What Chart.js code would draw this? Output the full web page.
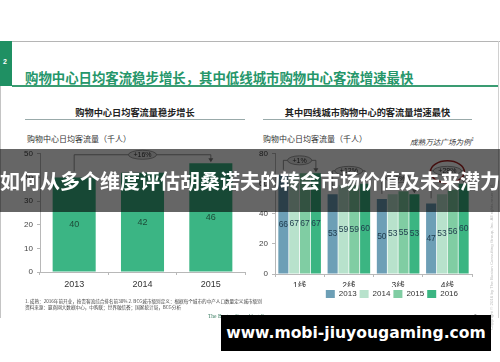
<!DOCTYPE html>
<html>
<head>
<meta charset="utf-8">
<script src="https://cdn.jsdelivr.net/npm/chart.js@4"></script>
<style>
  html, body { margin: 0; padding: 0; background: #fff; }
  #page { position: relative; width: 500px; height: 362px; overflow: hidden; background: #fff;
    font-family: "Noto Sans CJK SC", "Liberation Sans", sans-serif; }
  .abs { position: absolute; white-space: nowrap; }
  canvas { position: absolute; }
</style>
</head>
<body>
<div id="page">
  <!-- slide frame -->
  <div class="abs" style="left:0;top:41px;width:500px;height:1px;background:#b5b5b5"></div>
  <div class="abs" style="left:0;top:41px;width:1px;height:277px;background:#c4c4c4"></div>
  <div class="abs" style="left:498px;top:41px;width:1px;height:277px;background:#d0d0d0"></div>
  <div class="abs" style="left:0;top:41px;width:12px;height:45px;background:#1f9063"></div>
  <div class="abs" style="left:3px;top:58px;font:bold 7px 'Liberation Sans';color:#fff">2</div>
  <div class="abs" style="left:12px;top:85px;width:486px;height:2px;background:#3a9c72"></div>
  <div class="abs" style="left:25px;top:68px;font:bold 13.4px 'Noto Sans CJK SC';line-height:19px;color:#25966a">购物中心日均客流稳步增长，其中低线城市购物中心客流增速最快</div>

  <!-- panel titles -->
  <div class="abs" style="left:25px;width:220px;top:105px;text-align:center;font:bold 9.2px 'Noto Sans CJK SC';line-height:14px;color:#222">购物中心日均客流量稳步增长</div>
  <div class="abs" style="left:25px;top:119px;width:220px;height:1px;background:#9aa"></div>
  <div class="abs" style="left:263px;width:209px;top:105px;text-align:center;font:bold 9.2px 'Noto Sans CJK SC';line-height:14px;color:#222">其中四线城市购物中心的客流量增速最快</div>
  <div class="abs" style="left:263px;top:119px;width:209px;height:1px;background:#9aa"></div>

  <div class="abs" style="left:27px;top:133px;font:8px 'Noto Sans CJK SC';line-height:12px;color:#333">购物中心日均客流量（千人）</div>
  <div class="abs" style="left:263px;top:133px;font:8px 'Noto Sans CJK SC';line-height:12px;color:#333">购物中心日均客流量（千人）</div>
  <div class="abs" style="left:410px;top:133px;font:italic 7.6px 'Noto Sans CJK SC';line-height:12px;color:#333">成熟万达广场为例<sup style="font-size:5px">1</sup></div>

  <canvas id="leftChart" width="250" height="150" style="left:0;top:145px;width:250px;height:150px"></canvas>
  <canvas id="rightChart" width="250" height="163" style="left:250px;top:145px;width:250px;height:163px"></canvas>

  <!-- footnotes -->
  <div class="abs" style="left:25px;top:299px;font:4.6px 'Noto Sans CJK SC';line-height:5.5px;color:#444">1. 成熟：2016年前开业，按贵客流综合排名前30% 2. BCG城市级别定义：根据每个城市的中产人口数量定义城市级别<br>资料来源：赢商网大数据中心，中购联；世界融信荟；国家统计局，BCG分析</div>
  <div class="abs" style="left:208px;top:313px;font:5.5px 'Liberation Serif';line-height:7px;color:#3b7d62">The Boston Consulting Group</div>
  <div class="abs" style="left:474px;top:313px;font:5px 'Liberation Sans';line-height:7px;color:#555">6</div>
  <div class="abs" style="left:489px;top:330px;transform-origin:0 0;transform:rotate(-90deg);font:4.4px 'Liberation Sans';color:#bbb">Copyright © 2016 by The Boston Consulting Group, Inc. All rights reserved.</div>

  <!-- overlays -->
  <div class="abs" style="left:0;top:149px;width:500px;height:63px;background:rgba(0,0,0,0.6);color:#fff;text-align:center;font:bold 20px 'Noto Sans CJK SC';line-height:63px;letter-spacing:0">如何从多个维度评估胡桑诺夫的转会市场价值及未来潜力</div>
  <div class="abs" style="left:221px;top:315px;width:270px;height:36px;background:#000;color:#fff;text-align:center;font:bold 15.6px 'DejaVu Sans';line-height:36px">www.mobi-jiuyougaming.com</div>
</div>

<script>
// left panel: overall daily traffic
const years = ["2013", "2014", "2015"];
const dailyTraffic = [40, 42, 46];
const overallGrowth = "+16%";

// right panel: by city tier
const cityTiers = ["1线", "2线", "3线", "4线"];
const seriesYears = ["2013", "2014", "2015", "2016"];
const traffic2013 = [66, 53, 50, 47];
const traffic2014 = [67, 59, 53, 53];
const traffic2015 = [67, 59, 55, 56];
const traffic2016 = [67, 60, 53, 60];
const tierGrowth = ["+1%", "+12%", "+6%", "+28%"];
const highlightTier = 3;

const tierColors = ["#6d9fb6", "#b8e2cc", "#80cda3", "#3bb582"];

Chart.defaults.font.family = '"Liberation Sans", "Noto Sans CJK SC", sans-serif';
Chart.defaults.color = "#333";
Chart.defaults.animation = false;

// draws a growth bracket with the ellipse label
function drawBracket(ctx, x1, y1, x2, y2, topY, label, highlight) {
  ctx.save();
  ctx.strokeStyle = "#7a7a7a";
  ctx.lineWidth = 0.8;
  ctx.beginPath();
  ctx.moveTo(x1, y1);
  ctx.lineTo(x1, topY);
  ctx.lineTo(x2, topY);
  ctx.lineTo(x2, y2 - 3);
  ctx.stroke();
  ctx.fillStyle = "#7a7a7a";
  ctx.beginPath();
  ctx.moveTo(x2 - 2.5, y2 - 4);
  ctx.lineTo(x2 + 2.5, y2 - 4);
  ctx.lineTo(x2, y2);
  ctx.closePath();
  ctx.fill();

  const cx = (x1 + x2) / 2;
  ctx.font = "7px 'Liberation Sans'";
  const tw = ctx.measureText(label).width;
  ctx.beginPath();
  ctx.ellipse(cx, topY, tw / 2 + 5, 4.5, 0, 0, Math.PI * 2);
  ctx.fillStyle = "#e6e6e6";
  ctx.fill();
  ctx.strokeStyle = "#888";
  ctx.stroke();
  ctx.fillStyle = "#333";
  ctx.textAlign = "center";
  ctx.textBaseline = "middle";
  ctx.fillText(label, cx, topY + 0.5);
  if (highlight) {
    ctx.beginPath();
    ctx.ellipse(cx, topY + 1, 17, 11, 0, 0, Math.PI * 2);
    ctx.strokeStyle = "#a82424";
    ctx.lineWidth = 1.5;
    ctx.stroke();
  }
  ctx.restore();
}

const valueLabels = {
  id: "valueLabels",
  afterDatasetsDraw(chart, args, opts) {
    const ctx = chart.ctx;
    ctx.save();
    ctx.font = opts.font;
    ctx.fillStyle = opts.color;
    ctx.textAlign = "center";
    ctx.textBaseline = "middle";
    chart.data.datasets.forEach((ds, di) => {
      chart.getDatasetMeta(di).data.forEach((bar, i) => {
        ctx.fillText(ds.data[i], bar.x, (bar.y + bar.base) / 2);
      });
    });
    ctx.restore();
  }
};

const overallBracket = {
  id: "overallBracket",
  afterDatasetsDraw(chart) {
    const bars = chart.getDatasetMeta(0).data;
    const first = bars[0], last = bars[bars.length - 1];
    const topY = Math.min(...bars.map(b => b.y)) - 8.5;
    drawBracket(chart.ctx, first.x, first.y - 6, last.x, last.y - 1, topY, overallGrowth, false);
  }
};

const tierBrackets = {
  id: "tierBrackets",
  afterDatasetsDraw(chart) {
    const n = chart.data.datasets.length;
    cityTiers.forEach((t, i) => {
      const els = chart.data.datasets.map((ds, di) => chart.getDatasetMeta(di).data[i]);
      const first = els[0], last = els[n - 1];
      const topY = Math.min(...els.map(b => b.y)) - 13;
      drawBracket(chart.ctx, first.x, first.y - 5, last.x, last.y - 1, topY, tierGrowth[i], i === highlightTier);
    });
  },
  afterLayout(chart) {
    // nudge legend toward the centre like the slide
    chart.legend.right -= 11;
  }
};

const axisLine = "#b8b8b8";

new Chart(document.getElementById("leftChart"), {
  type: "bar",
  data: {
    labels: years,
    datasets: [{
      data: dailyTraffic,
      backgroundColor: "#3bb584",
      barPercentage: 1,
      categoryPercentage: 0.63
    }]
  },
  options: {
    responsive: false,
    layout: { padding: { top: 7, right: 5, left: 0, bottom: 0 } },
    plugins: {
      legend: { display: false },
      tooltip: { enabled: false },
      valueLabels: { font: "9px 'Liberation Sans'", color: "#1d4b38" }
    },
    scales: {
      x: {
        grid: { display: true, drawOnChartArea: false, offset: true, tickLength: 3, color: axisLine },
        border: { color: axisLine },
        ticks: { font: { size: 9 }, color: "#333", padding: 4 },
        afterFit: s => { s.height = 23; }
      },
      y: {
        min: 0, max: 50,
        grid: { display: true, drawOnChartArea: false, tickLength: 3, color: axisLine },
        border: { color: axisLine },
        ticks: { stepSize: 10, font: { size: 8 }, color: "#444", padding: 4 },
        afterFit: s => { s.width = 40; }
      }
    }
  },
  plugins: [valueLabels, overallBracket]
});

const tierSeries = [traffic2013, traffic2014, traffic2015, traffic2016];

new Chart(document.getElementById("rightChart"), {
  type: "bar",
  data: {
    labels: cityTiers,
    datasets: seriesYears.map((y, k) => ({
      label: y,
      data: tierSeries[k],
      backgroundColor: tierColors[k],
      barPercentage: 0.93,
      categoryPercentage: 0.88
    }))
  },
  options: {
    responsive: false,
    layout: { padding: { top: 7, right: 28, left: 0, bottom: 0 } },
    plugins: {
      legend: {
        display: true,
        position: "bottom",
        align: "end",
        labels: { boxWidth: 9, boxHeight: 8, padding: 3, font: { size: 8 }, color: "#333" }
      },
      tooltip: { enabled: false },
      valueLabels: { font: "8.5px 'Liberation Sans'", color: "#1e3a4c" }
    },
    scales: {
      x: {
        grid: { display: true, drawOnChartArea: false, offset: true, tickLength: 3, color: axisLine },
        border: { color: axisLine },
        ticks: { font: { size: 8.5 }, color: "#333", padding: 4 },
        afterFit: s => { s.height = 13; }
      },
      y: {
        min: 0, max: 80,
        grid: { display: true, drawOnChartArea: false, tickLength: 3, color: axisLine },
        border: { color: axisLine },
        ticks: { stepSize: 20, font: { size: 8 }, color: "#444", padding: 4 },
        afterFit: s => { s.width = 25; }
      }
    }
  },
  plugins: [valueLabels, tierBrackets]
});
</script>
</body>
</html>
